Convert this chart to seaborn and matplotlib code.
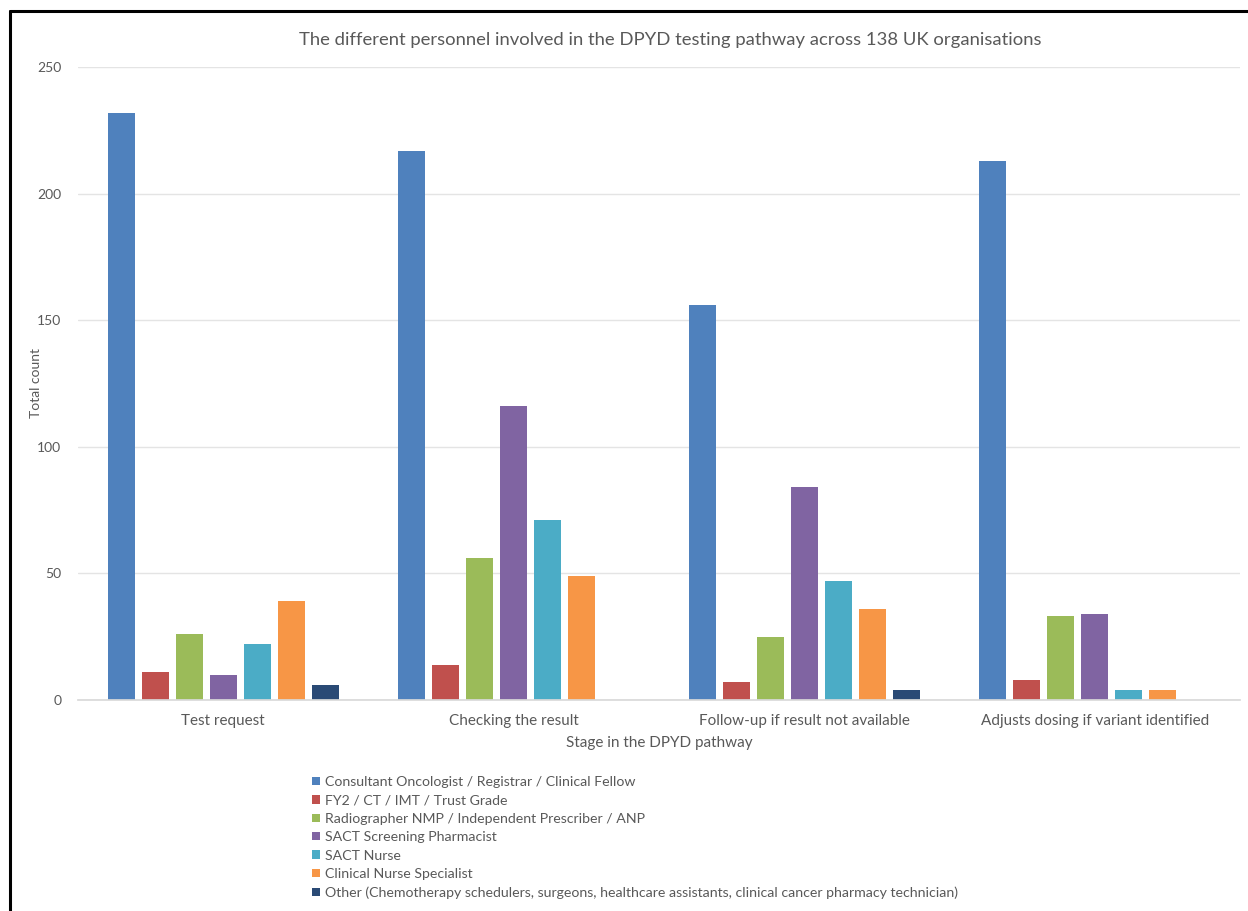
import matplotlib
matplotlib.use("Agg")
import matplotlib.pyplot as plt
from matplotlib.lines import Line2D
from matplotlib.patches import Patch
import seaborn as sns
import pandas as pd

stages = ["Test request", "Checking the result",
          "Follow-up if result not available", "Adjusts dosing if variant identified"]
roles = [
    "Consultant Oncologist / Registrar / Clinical Fellow",
    "FY2 / CT / IMT / Trust Grade",
    "Radiographer NMP / Independent Prescriber / ANP",
    "SACT Screening Pharmacist",
    "SACT Nurse",
    "Clinical Nurse Specialist",
    "Other (Chemotherapy schedulers, surgeons, healthcare assistants, clinical cancer pharmacy technician)",
]
consultant = [232, 217, 156, 213]
fy2 = [11, 14, 7, 8]
radiographer = [26, 56, 25, 33]
pharmacist = [10, 116, 84, 34]
sact_nurse = [22, 71, 47, 4]
cns = [39, 49, 36, 4]
other = [6, 0, 4, 0]
colors = ["#4F81BD", "#C0504D", "#9BBB59", "#8064A2", "#4BACC6", "#F79646", "#2A4A75"]

series = [consultant, fy2, radiographer, pharmacist, sact_nurse, cns, other]
rows = []
for role, vals in zip(roles, series):
    for stage, v in zip(stages, vals):
        rows.append({"Stage": stage, "Role": role, "Count": v})
df = pd.DataFrame(rows)

sns.set_theme(style="white")
plt.rcParams["font.family"] = ["Lato", "DejaVu Sans"]
text_col = "#595959"

fig = plt.figure(figsize=(12.48, 9.11), dpi=100)
ax = fig.add_axes([78 / 1248, 1 - 700 / 911, (1240 - 78) / 1248, (700 - 67) / 911])

sns.barplot(data=df, x="Stage", y="Count", hue="Role", order=stages,
            hue_order=roles, palette=colors, saturation=1, width=0.82, gap=0.2,
            linewidth=0, ax=ax, legend=False)

ax.set_ylim(0, 250)
ax.set_yticks([0, 50, 100, 150, 200, 250])
ax.set_xlim(-0.5, 3.5)
ax.yaxis.grid(True, color="#e4e4e4", linewidth=1)
ax.set_axisbelow(True)
for side in ["left", "right", "top"]:
    ax.spines[side].set_visible(False)
ax.spines["bottom"].set_color("#d9d9d9")
ax.tick_params(axis="both", length=0, colors=text_col)
ax.tick_params(axis="y", labelsize=10, pad=12)
ax.tick_params(axis="x", labelsize=11, pad=10)

ax.set_xlabel("Stage in the DPYD pathway", fontsize=11, color=text_col, labelpad=6)
ax.set_ylabel("Total count", fontsize=10, color=text_col)
ax.yaxis.set_label_coords(-0.031, 0.5)

fig.text(670 / 1248, 1 - 40 / 911,
         "The different personnel involved in the DPYD testing pathway across 138 UK organisations",
         ha="center", va="center", fontsize=13.3, color=text_col)

handles = [Patch(facecolor=c, edgecolor="none") for c in colors]
leg = fig.legend(handles, roles, loc="upper left",
                 bbox_to_anchor=(305 / 1248, 1 - 769 / 911),
                 frameon=False, fontsize=10.2, handlelength=0.55, handleheight=0.55,
                 handletextpad=0.35, labelspacing=0.45, borderpad=0)
for t in leg.get_texts():
    t.set_color(text_col)

# outer frame (top and left edges)
fig.add_artist(Line2D([10 / 1248, 1.0], [1 - 11 / 911, 1 - 11 / 911],
                      transform=fig.transFigure, color="black", linewidth=2.2))
fig.add_artist(Line2D([10 / 1248, 10 / 1248], [1 - 11 / 911, 0.0],
                      transform=fig.transFigure, color="black", linewidth=2.2))

fig.savefig("out.png", dpi=100, facecolor="white")
